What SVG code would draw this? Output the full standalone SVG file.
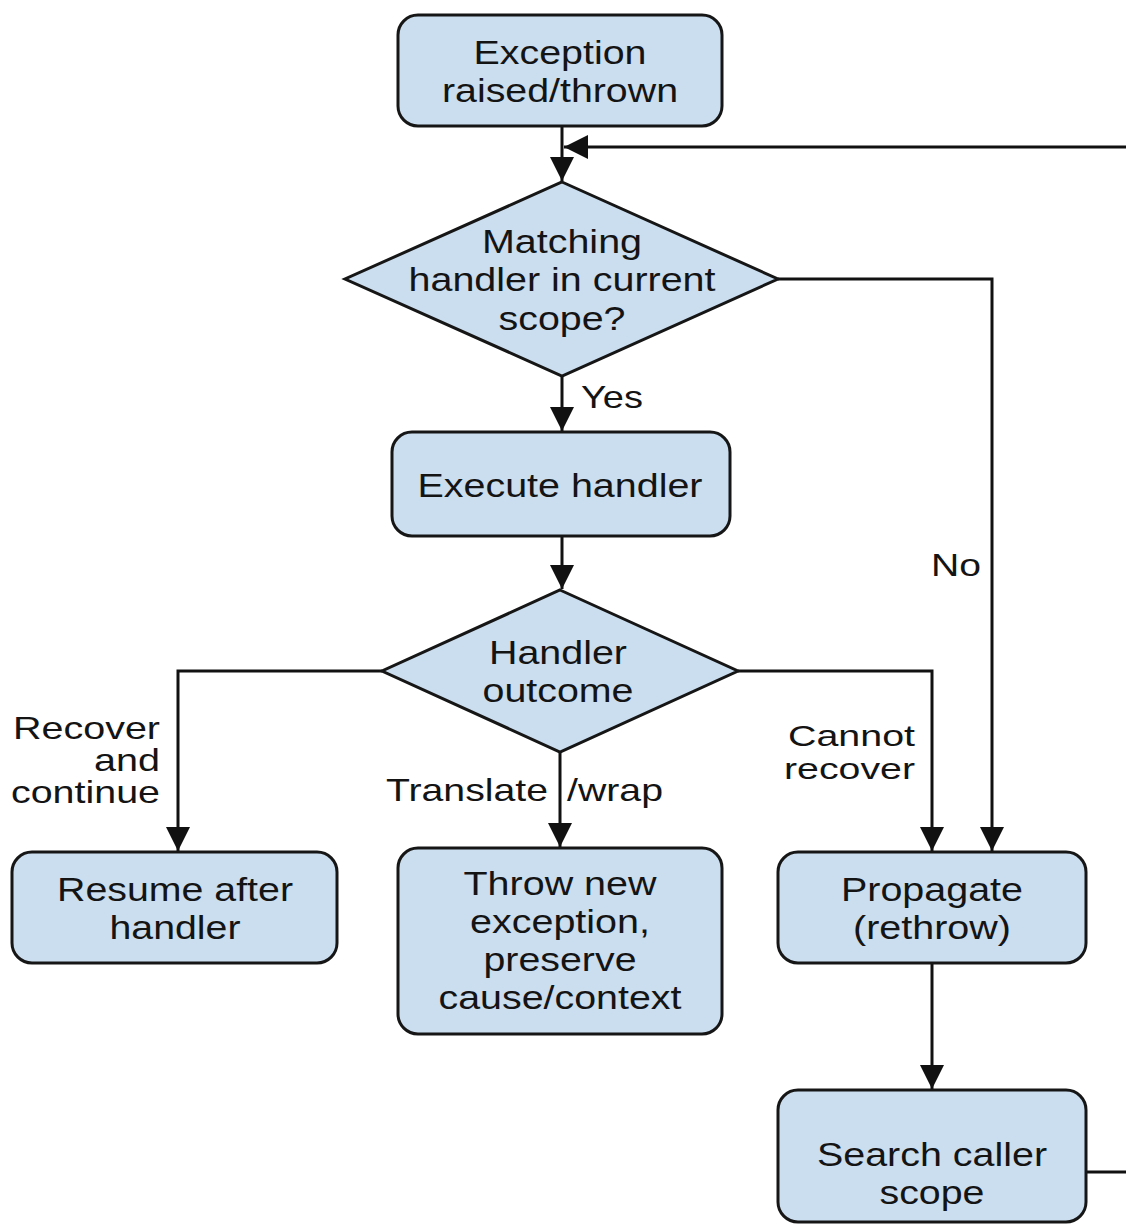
<svg xmlns="http://www.w3.org/2000/svg" width="1126" height="1224" viewBox="0 0 1126 1224">
<defs>
<style>
.box{fill:#cbdeef;stroke:#161616;stroke-width:3}
.t{font-family:"Liberation Sans",Arial,sans-serif;font-size:34px;fill:#141414;text-anchor:middle}
.l{font-family:"Liberation Sans",Arial,sans-serif;font-size:32px;fill:#141414}
.s{font-size:29px}
.c{fill:none;stroke:#111;stroke-width:3}
</style>
<marker id="ah" viewBox="0 0 10 10" refX="10" refY="5" markerUnits="userSpaceOnUse" markerWidth="26" markerHeight="24" orient="auto">
<path d="M0,0 L10,5 L0,10 z" fill="#111"/>
</marker>
</defs>
<rect width="1126" height="1224" fill="#ffffff"/>
<g id="connectors">
<path class="c" d="M562,126 V181" marker-end="url(#ah)"/>
<path class="c" d="M1126,147 H564" marker-end="url(#ah)"/>
<path class="c" d="M562,376 V431" marker-end="url(#ah)"/>
<path class="c" d="M778,279 H992 V851" marker-end="url(#ah)"/>
<path class="c" d="M562,536 V589" marker-end="url(#ah)"/>
<path class="c" d="M382,671 H178 V851" marker-end="url(#ah)"/>
<path class="c" d="M560,752 V847" marker-end="url(#ah)"/>
<path class="c" d="M738,671 H932 V851" marker-end="url(#ah)"/>
<path class="c" d="M932,963 V1089" marker-end="url(#ah)"/>
<path class="c" d="M1086,1172 H1126"/>
<text class="l" x="581" y="408" textLength="62" lengthAdjust="spacingAndGlyphs">Yes</text>
<text class="l" x="931" y="576" textLength="50" lengthAdjust="spacingAndGlyphs">No</text>
<text class="l" x="160" y="739" text-anchor="end" textLength="147" lengthAdjust="spacingAndGlyphs">Recover</text>
<text class="l" x="160" y="771" text-anchor="end" textLength="66" lengthAdjust="spacingAndGlyphs">and</text>
<text class="l" x="160" y="803" text-anchor="end" textLength="149" lengthAdjust="spacingAndGlyphs">continue</text>
<text class="l" x="548" y="801" text-anchor="end" textLength="162" lengthAdjust="spacingAndGlyphs">Translate</text>
<text class="l" x="567" y="801" textLength="96" lengthAdjust="spacingAndGlyphs">/wrap</text>
<text class="l s" x="915" y="746" text-anchor="end" textLength="127" lengthAdjust="spacingAndGlyphs">Cannot</text>
<text class="l s" x="915" y="779" text-anchor="end" textLength="131" lengthAdjust="spacingAndGlyphs">recover</text>
</g>
<g id="n-exception">
<rect class="box" x="398" y="15" width="324" height="111" rx="20"/>
<text class="t" x="560" y="64" textLength="173" lengthAdjust="spacingAndGlyphs">Exception</text>
<text class="t" x="560" y="102" textLength="236" lengthAdjust="spacingAndGlyphs">raised/thrown</text>
</g>
<g id="n-matching">
<polygon class="box" points="562,182 778,279 562,376 345,279"/>
<text class="t" x="562" y="253" textLength="160" lengthAdjust="spacingAndGlyphs">Matching</text>
<text class="t" x="562" y="291" textLength="307" lengthAdjust="spacingAndGlyphs">handler in current</text>
<text class="t" x="562" y="330" textLength="127" lengthAdjust="spacingAndGlyphs">scope?</text>
</g>
<g id="n-execute">
<rect class="box" x="392" y="432" width="338" height="104" rx="20"/>
<text class="t" x="560" y="497" textLength="285" lengthAdjust="spacingAndGlyphs">Execute handler</text>
</g>
<g id="n-outcome">
<polygon class="box" points="560,590 738,671 560,752 382,671"/>
<text class="t" x="558" y="664" textLength="138" lengthAdjust="spacingAndGlyphs">Handler</text>
<text class="t" x="558" y="702" textLength="151" lengthAdjust="spacingAndGlyphs">outcome</text>
</g>
<g id="n-resume">
<rect class="box" x="12" y="852" width="325" height="111" rx="20"/>
<text class="t" x="175" y="901" textLength="236" lengthAdjust="spacingAndGlyphs">Resume after</text>
<text class="t" x="175" y="939" textLength="131" lengthAdjust="spacingAndGlyphs">handler</text>
</g>
<g id="n-throw">
<rect class="box" x="398" y="848" width="324" height="186" rx="20"/>
<text class="t" x="560" y="895" textLength="193" lengthAdjust="spacingAndGlyphs">Throw new</text>
<text class="t" x="560" y="933" textLength="180" lengthAdjust="spacingAndGlyphs">exception,</text>
<text class="t" x="560" y="971" textLength="153" lengthAdjust="spacingAndGlyphs">preserve</text>
<text class="t" x="560" y="1009" textLength="243" lengthAdjust="spacingAndGlyphs">cause/context</text>
</g>
<g id="n-propagate">
<rect class="box" x="778" y="852" width="308" height="111" rx="20"/>
<text class="t" x="932" y="901" textLength="182" lengthAdjust="spacingAndGlyphs">Propagate</text>
<text class="t" x="932" y="939" textLength="158" lengthAdjust="spacingAndGlyphs">(rethrow)</text>
</g>
<g id="n-search">
<rect class="box" x="778" y="1090" width="308" height="132" rx="20"/>
<text class="t" x="932" y="1166" textLength="230" lengthAdjust="spacingAndGlyphs">Search caller</text>
<text class="t" x="932" y="1204" textLength="105" lengthAdjust="spacingAndGlyphs">scope</text>
</g>
</svg>
